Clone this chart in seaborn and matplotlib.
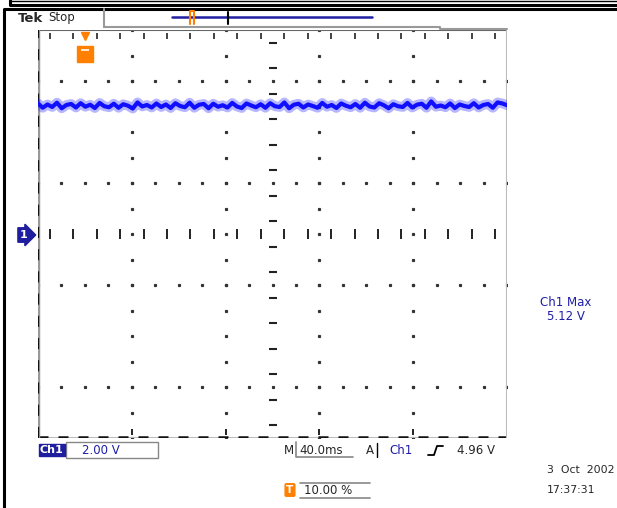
import numpy as np
import pandas as pd
import matplotlib
matplotlib.use("Agg")
import matplotlib.pyplot as plt
from matplotlib.lines import Line2D
from matplotlib.patches import Rectangle
import seaborn as sns

# === scope settings / readings ===
volts_per_div = 2.0
ms_per_div = 40.0
trigger_pct = 10.0
ch1_max = "5.12 V"
trig_level = "4.96 V"
date_str = "3  Oct  2002"
time_str = "17:37:31"

# ch1 trace samples (V)
ch1_volts = [
    5.12, 4.95, 5.08, 4.98, 5.15, 4.93, 5.06, 5.10, 4.96, 5.13,
    4.99, 5.07, 4.94, 5.14, 5.01, 4.97, 5.11, 4.95, 5.09, 5.03,
    4.92, 5.16, 5.00, 5.06, 4.96, 5.12, 4.98, 5.08, 4.94, 5.13,
    5.02, 4.97, 5.15, 4.95, 5.07, 5.10, 4.93, 5.11, 4.99, 5.05,
    4.96, 5.14, 5.00, 4.94, 5.12, 5.04, 4.97, 5.09, 4.95, 5.13,
    5.01, 4.98, 5.16, 4.93, 5.07, 5.11, 4.96, 5.08, 5.02, 4.95,
    5.14, 4.99, 5.06, 4.94, 5.12, 5.03, 4.97, 5.10, 4.95, 5.15,
    5.00, 4.96, 5.13, 5.05, 4.93, 5.09, 5.01, 4.98, 5.14, 4.96,
    5.07, 5.11, 4.95, 5.20, 4.99, 5.04, 4.97, 5.12, 4.94, 5.08,
    5.02, 4.98, 5.13, 4.96, 5.06, 5.10, 4.95, 5.16, 5.12, 5.05,
]

W, H = 617, 508
BLUE_TXT = "#1e1ea8"
TRACE = "#1010ff"
ORANGE = "#ff8000"

sns.set_style("white")
plt.rcParams["font.family"] = ["DejaVu Sans"]

fig = plt.figure(figsize=(W / 100, H / 100), dpi=100)
fig.patch.set_facecolor("white")


def fx(x):
    return x / W


def fy(y):
    return 1 - y / H


def fline(xs, ys, **kw):
    fig.add_artist(Line2D([fx(v) for v in xs], [fy(v) for v in ys],
                          transform=fig.transFigure, **kw))


# graticule axes: 10 x 8 divisions
ax = fig.add_axes([fx(38), fy(438), (507 - 38) / W, (438 - 30) / H])
t0 = -trigger_pct / 100 * 10 * ms_per_div
t1 = t0 + 10 * ms_per_div
ax.set_xlim(t0, t1)
ax.set_ylim(-4 * volts_per_div, 4 * volts_per_div)
ax.set_xticks([])
ax.set_yticks([])
for s in ax.spines.values():
    s.set_visible(False)

xdiv = t0 + ms_per_div * np.arange(11)
ydiv = volts_per_div * np.arange(-4, 5)
xc = xdiv[5]

# dotted grid lines
for xv in xdiv[[2, 4, 6, 8]]:
    yy = np.arange(-8, 8.01, volts_per_div / 2)
    ax.plot([xv] * len(yy), yy, ls="none", marker="s", ms=1.3, color="#333333")
for yv in ydiv[[1, 3, 5, 7]]:
    xx = np.arange(t0, t1 + 0.1, ms_per_div / 2)
    ax.plot(xx, [yv] * len(xx), ls="none", marker="s", ms=1.3, color="#333333")
# center cross
xx = np.arange(t0 + ms_per_div / 4, t1, ms_per_div / 2)
ax.plot(xx, [0] * len(xx), ls="none", marker="|", ms=7, mew=1.4, color="#222222")
yy = np.arange(-8 + volts_per_div / 4, 8, volts_per_div / 2)
ax.plot([xc] * len(yy), yy, ls="none", marker="_", ms=6, mew=1.5, color="#222222")

# edges
ax.axhline(8, color="#666666", lw=1.5)
xx = np.arange(t0 + ms_per_div / 4, t1, ms_per_div / 2)
ax.plot(xx, [7.75] * len(xx), ls="none", marker="|", ms=4, mew=1.2, color="#222222")
ax.axhline(-8, color="#bbbbbb", lw=1.5)
ax.axhline(-7.95, color="#111111", lw=1.8, ls=(0, (4, 4)))
ax.plot(xdiv[[2, 4, 6, 8]], [-7.75] * 4, ls="none", marker="|", ms=5, mew=1.3, color="#111111")
ax.axvline(t0, color="#999999", lw=2.5)
ax.axvline(t0, color="#111111", lw=1.6, ls=(0, (5, 5)))
ax.axvline(t1, color="#bbbbbb", lw=1.5)

# trace: soft noise band + core line
df = pd.DataFrame({"t": np.linspace(t0, t1, len(ch1_volts)), "v": ch1_volts})
sns.lineplot(data=df, x="t", y="v", ax=ax, color=TRACE, lw=7, alpha=0.3, legend=False)
sns.lineplot(data=df, x="t", y="v", ax=ax, color=TRACE, lw=3.0, legend=False)
ax.set_xlabel("")
ax.set_ylabel("")

# trigger position marker
ax.plot([0], [7.05], marker="s", ms=11, color=ORANGE, clip_on=False)
ax.plot([0], [7.75], marker="v", ms=6, color=ORANGE, clip_on=False)
ax.plot([0], [7.2], marker="_", ms=6, mew=1.2, color="white", clip_on=False)

# outer frame
fline([3.5, 3.5, W], [H, 8.5, 8.5], color="black", lw=2.2)
fline([10, 10, W], [0, 4.5, 4.5], color="black", lw=2.2)
fline([10, W], [1, 1], color="black", lw=1)

# header
fig.text(fx(18), fy(18), "Tek", fontsize=9.5, fontweight="bold", va="center")
fig.text(fx(48), fy(18), "Stop", fontsize=8.5, va="center")
fline([104, 104], [9, 27], color="#999999", lw=1.5)
fline([104, 440, 440, 507], [26.5, 26.5, 29, 29], color="#999999", lw=1.5)
fline([172, 372], [17, 17], color="#2020a0", lw=1.8)
fline([228, 228], [12, 24], color="black", lw=1.5)
fline([190, 190, 194, 194], [24, 11, 11, 24], color=ORANGE, lw=1.5)

# ground marker
fig.text(fx(24), fy(235), "1", color="white", fontsize=8, fontweight="bold",
         ha="center", va="center",
         bbox=dict(boxstyle="rarrow,pad=0.2", fc="#1e1e9e", ec="#1e1e9e"))

# max readout
fig.text(fx(566), fy(303), "Ch1 Max", color=BLUE_TXT, fontsize=8.5, ha="center", va="center")
fig.text(fx(566), fy(317), ch1_max, color=BLUE_TXT, fontsize=8.5, ha="center", va="center")

# bottom status line
fig.text(fx(40), fy(450), "Ch1", color="white", fontsize=8, fontweight="bold", va="center",
         bbox=dict(boxstyle="square,pad=0.12", fc="#1e1e9e", ec="#1e1e9e"))
fig.add_artist(Rectangle((fx(66), fy(458)), (158 - 66) / W, 16 / H,
                         transform=fig.transFigure, fc="white", ec="#888888", lw=1))
fig.text(fx(82), fy(450), f"{volts_per_div:.2f} V", color=BLUE_TXT, fontsize=8.5, va="center")
fig.text(fx(284), fy(450), "M", fontsize=8.5, va="center")
fline([296, 296, 353], [442, 457, 457], color="#888888", lw=1.2)
fig.text(fx(299), fy(450), f"{ms_per_div:.1f}ms", fontsize=8.5, va="center")
fig.text(fx(366), fy(450), "A", fontsize=8.5, va="center")
fline([377, 377], [443, 457], color="black", lw=1)
fig.text(fx(389), fy(450), "Ch1", color=BLUE_TXT, fontsize=8.5, va="center")
fline([428, 434, 437, 443], [455, 455, 446, 446], color="black", lw=1.3)
fig.text(fx(457), fy(450), trig_level, fontsize=8.5, va="center")

fig.text(fx(290), fy(490), "T", color="white", fontsize=7.5, fontweight="bold",
         ha="center", va="center",
         bbox=dict(boxstyle="round,pad=0.12", fc=ORANGE, ec=ORANGE))
fline([300, 370], [482.5, 482.5], color="#888888", lw=1.2)
fline([300, 370], [497.5, 497.5], color="#888888", lw=1.2)
fig.text(fx(304), fy(490), f"{trigger_pct:.2f} %", fontsize=8.5, va="center")

fig.text(fx(547), fy(470), date_str, fontsize=7.8, va="center")
fig.text(fx(547), fy(490), time_str, fontsize=7.8, va="center")

fig.savefig("out.png", dpi=100)
